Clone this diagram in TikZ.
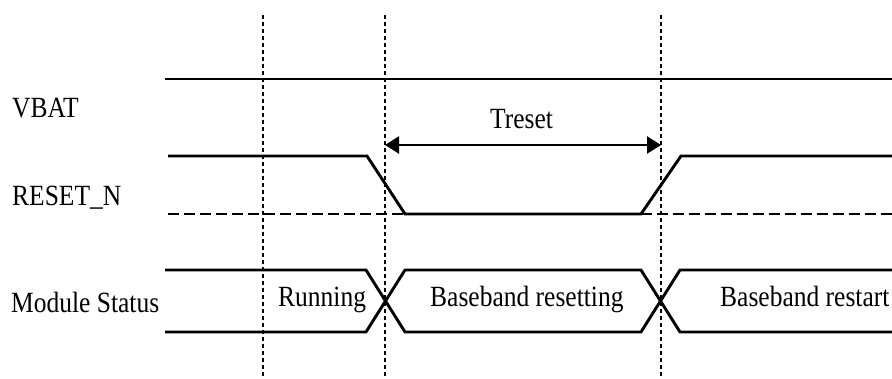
\documentclass[tikz,border=0pt]{standalone}
\usepackage{fontspec}
\setmainfont{Liberation Serif}
\usetikzlibrary{arrows.meta}
\newcommand\tallt[1]{\scalebox{1}[1.15]{#1}}
\begin{document}
\begin{tikzpicture}[x=1pt,y=-1pt,>={Triangle[length=14pt,width=17pt]},
    sig/.style={line width=2.9pt},
    mark line/.style={line width=2.2pt,dash pattern=on 4pt off 3pt},
    low line/.style={line width=2.6pt,dash pattern=on 11pt off 5pt},
    lbl/.style={font=\fontsize{25.5}{30}\selectfont,inner sep=0pt,anchor=base west}]
\useasboundingbox (0,0) rectangle (892,378);
% time marks
\foreach \x in {263,385,661}
    \draw[mark line](\x,15)--(\x,378);
\coordinate (t1) at (385,145);
\coordinate (t2) at (661,145);
% names
\node[lbl] (vbat) at (12,117){\tallt{VBAT}};
\node[lbl] (rst) at (12,205){\tallt{RESET\_N}};
\node[lbl] (stat) at (11,312){\tallt{Module Status}};
% VBAT
\draw[sig](165,79)--(892,79);
% RESET_N
\draw[sig](168,156)--(367,156)--(405,214)--(641,214)--(681,156)--(892,156);
\draw[low line](168,214)--(405,214);
\draw[low line](641,214)--(892,214);
\draw[line width=2.4pt,<->](t1)--(t2);
\node[lbl] (tr) at (490,128){\tallt{Treset}};
% module status
\draw[sig](165,270)--(366,270)--(405,332)--(641,332)--(680,270)--(892,270);
\draw[sig](165,332)--(366,332)--(405,270)--(641,270)--(680,332)--(892,332);
\node[lbl] (run) at (278,306){\tallt{Running}};
\node[lbl] (bbrs) at (430,306){\tallt{Baseband resetting}};
\node[lbl] (bbrt) at (720,306){\tallt{Baseband restart}};
\end{tikzpicture}
\end{document}
